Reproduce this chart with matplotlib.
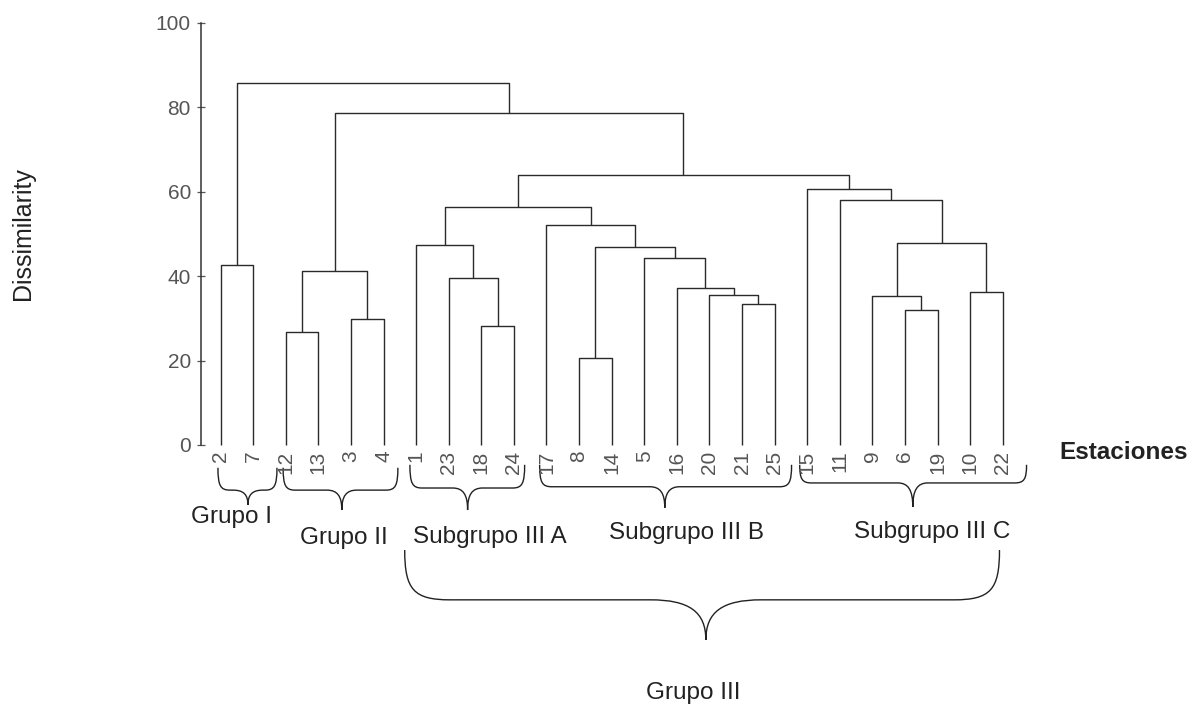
import matplotlib.pyplot as plt
from matplotlib.path import Path
from matplotlib.patches import PathPatch

plt.rcParams['font.family'] = ['Liberation Sans', 'DejaVu Sans']

# leaf order (stations) as drawn left to right
estaciones = ['2', '7', '12', '13', '3', '4', '1', '23', '18', '24', '17', '8', '14',
              '5', '16', '20', '21', '25', '15', '11', '9', '6', '19', '10', '22']

# merges: node ids 0..24 are leaves, merge k creates node 25 + k
izq = [0, 2, 4, 26, 8, 7, 6, 11, 16, 15, 14, 13, 32, 10, 31, 21, 20, 23, 41, 19, 18, 39, 28, 25]
der = [1, 3, 5, 27, 9, 29, 30, 12, 17, 33, 34, 35, 36, 37, 38, 22, 40, 24, 42, 43, 44, 45, 46, 47]
altura = [42.7, 26.7, 29.9, 41.3, 28.3, 39.5, 47.4, 20.5, 33.3, 35.5, 37.3, 44.2,
          47.0, 52.1, 56.3, 32.0, 35.3, 36.3, 47.9, 58.1, 60.6, 64.0, 78.6, 85.7]

y_ticks = [0, 20, 40, 60, 80, 100]

# group braces: (left, right, top, middle, tip x, tip y) and labels
llaves = [(-0.08, 1.73, -5.4, -10.7, 0.84, -14.2),
          (1.92, 5.44, -5.4, -10.7, 3.72, -15.4),
          (5.81, 9.33, -4.7, -10.2, 7.58, -15.4),
          (9.79, 17.52, -4.7, -9.9, 13.63, -14.9),
          (17.77, 24.73, -4.7, -9.0, 21.24, -14.7)]
grupos = ['Grupo I', 'Grupo II', 'Subgrupo III A', 'Subgrupo III B', 'Subgrupo III C']
grupos_x = [0.35, 3.78, 8.26, 14.3, 21.85]
grupos_y = [-17.1, -22.0, -21.8, -20.9, -20.6]


def brace(ax, x0, x1, yt, ym, xt, ytip, c, t):
    verts = [(x0, yt),
             (x0, yt + (ym - yt) * 0.8), (x0 + c * 0.2, ym), (x0 + c, ym),
             (xt - t, ym),
             (xt - t * 0.3, ym), (xt, ym + (ytip - ym) * 0.3), (xt, ytip),
             (xt, ym + (ytip - ym) * 0.3), (xt + t * 0.3, ym), (xt + t, ym),
             (x1 - c, ym),
             (x1 - c * 0.2, ym), (x1, yt + (ym - yt) * 0.8), (x1, yt)]
    codes = [Path.MOVETO, Path.CURVE4, Path.CURVE4, Path.CURVE4, Path.LINETO,
             Path.CURVE4, Path.CURVE4, Path.CURVE4, Path.CURVE4, Path.CURVE4, Path.CURVE4,
             Path.LINETO, Path.CURVE4, Path.CURVE4, Path.CURVE4]
    ax.add_patch(PathPatch(Path(verts, codes), facecolor='none', edgecolor='#222222',
                           lw=1.0, clip_on=False))


fig = plt.figure(figsize=(12.01, 7.09), dpi=100)
ax = fig.add_axes([0.1671, 0.3724, 0.6814, 0.5952])

# positions of every node
pos_x = list(range(len(estaciones)))
pos_y = [0.0] * len(estaciones)
for a, b, h in zip(izq, der, altura):
    ax.plot([pos_x[a], pos_x[a], pos_x[b], pos_x[b]], [pos_y[a], h, h, pos_y[b]],
            color='#2a2a2a', lw=1.0, solid_capstyle='butt', clip_on=False)
    pos_x.append((pos_x[a] + pos_x[b]) / 2)
    pos_y.append(h)

ax.set_xlim(-0.61, 24.5)
ax.set_ylim(0, 100)
for s in ['top', 'right', 'bottom']:
    ax.spines[s].set_visible(False)
ax.spines['left'].set_color('#333333')
ax.spines['left'].set_linewidth(1.1)

ax.set_yticks(y_ticks)
ax.tick_params(axis='y', direction='inout', length=6, width=0.9, color='#555555',
               labelsize=15, labelcolor='#555555', pad=4)
ax.set_xticks(range(len(estaciones)))
ax.set_xticklabels(estaciones, rotation=90)
ax.tick_params(axis='x', length=0, labelsize=15, labelcolor='#555555', pad=4)

for ll in llaves:
    brace(ax, *ll, c=0.37, t=0.46)
brace(ax, 5.65, 23.9, -24.9, -36.7, 14.89, -46.2, c=1.4, t=1.7)

for g, gx, gy in zip(grupos, grupos_x, grupos_y):
    ax.text(gx, gy, g, ha='center', va='center', fontsize=17.5, color='#222222')
ax.text(14.5, -58.8, 'Grupo III', ha='center', va='center', fontsize=17.5, color='#222222')
ax.text(25.75, -1.7, 'Estaciones', ha='left', va='center', fontsize=17.5,
        fontweight='bold', color='#222222')

fig.text(23 / 1201, 0.67, 'Dissimilarity', rotation=90, ha='center', va='center',
         fontsize=18, color='#222222')

fig.savefig('out.png', dpi=100)
